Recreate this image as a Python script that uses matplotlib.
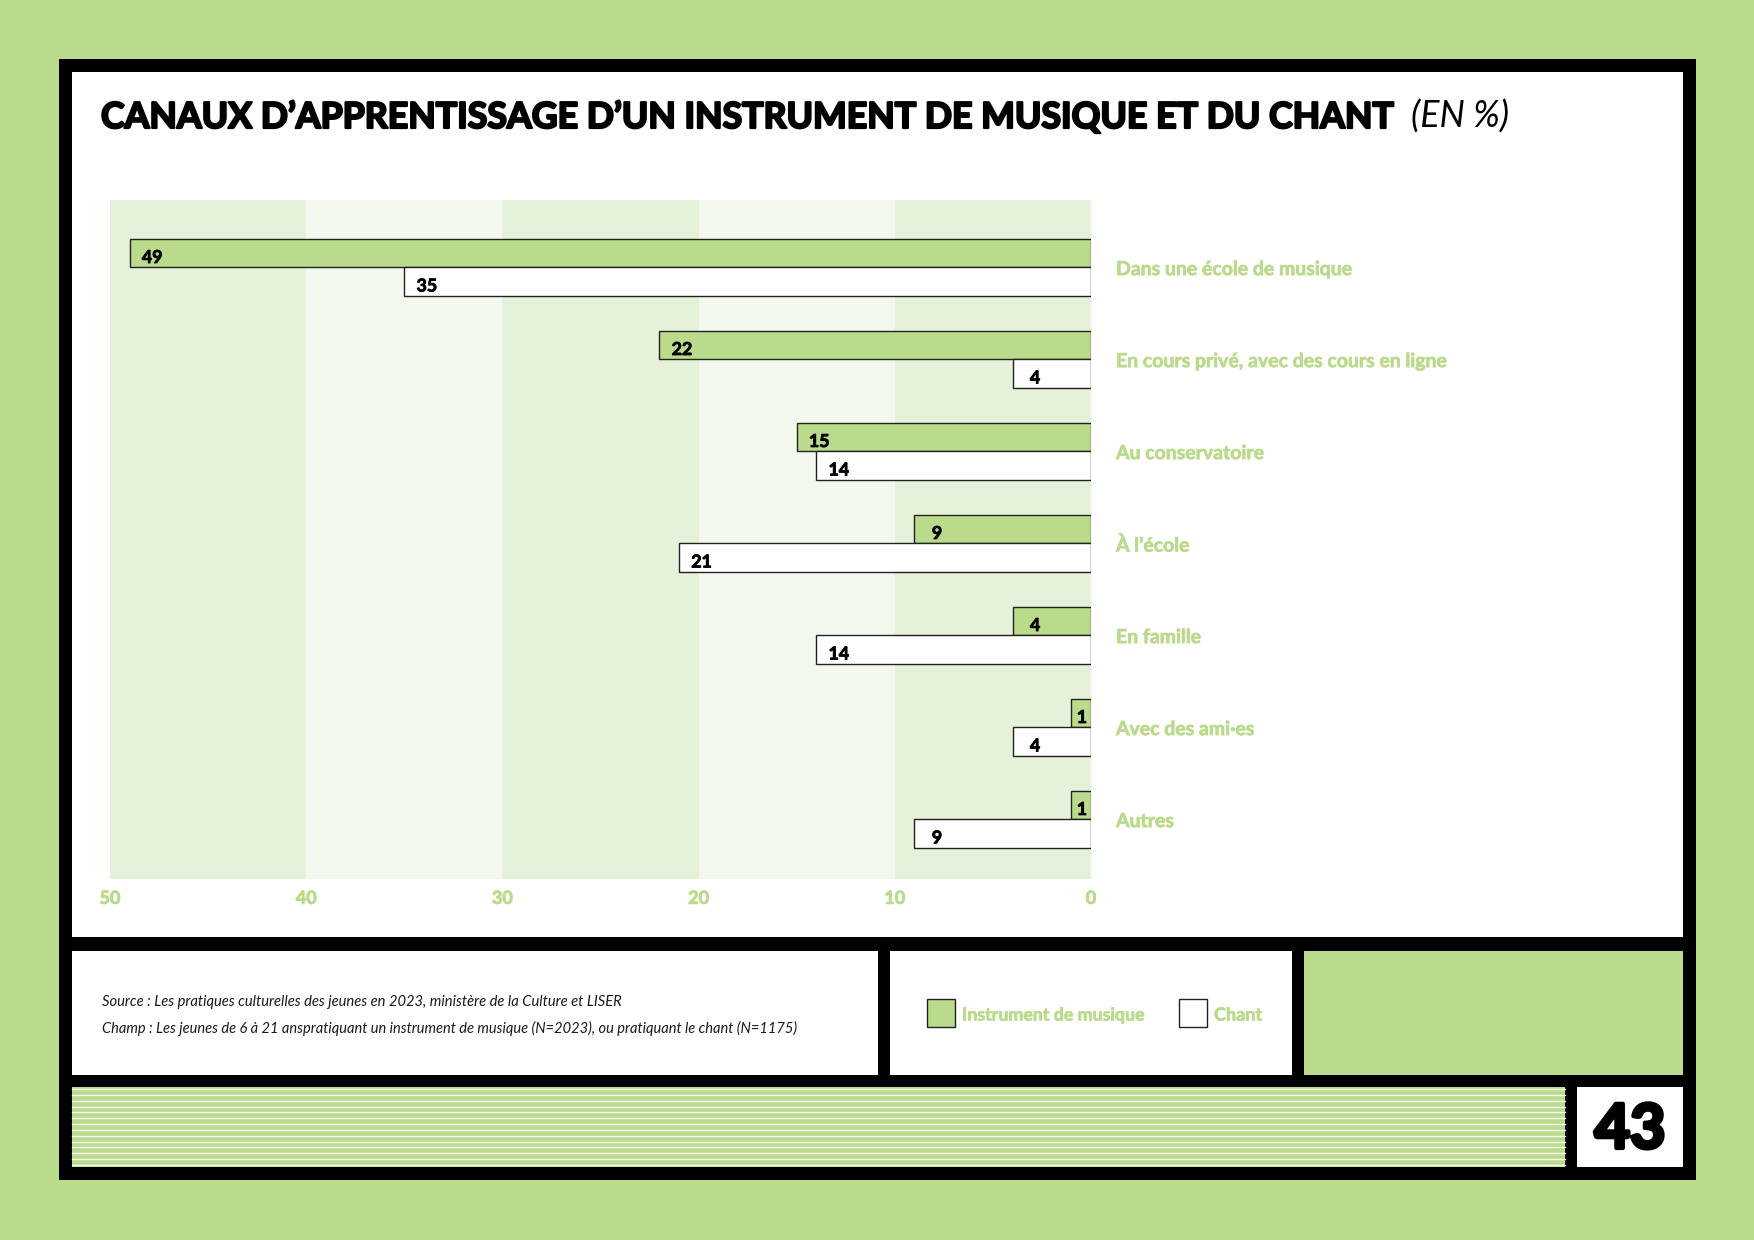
import numpy as np
import matplotlib.pyplot as plt
import matplotlib.patheffects as pe
from matplotlib.patches import Rectangle
from matplotlib.transforms import blended_transform_factory

# data
categories = ["Dans une école de musique",
              "En cours privé, avec des cours en ligne",
              "Au conservatoire",
              "À l’école",
              "En famille",
              "Avec des ami·es",
              "Autres"]
instrument = [49, 22, 15, 9, 4, 1, 1]
chant = [35, 4, 14, 21, 14, 4, 9]
ticks = [50, 40, 30, 20, 10, 0]
series_names = ["Instrument de musique", "Chant"]

title = "CANAUX D’APPRENTISSAGE D’UN INSTRUMENT DE MUSIQUE ET DU CHANT"
unit = "(EN %)"
source_lines = ["Source : Les pratiques culturelles des jeunes en 2023, ministère de la Culture et LISER",
                "Champ : Les jeunes de 6 à 21 anspratiquant un instrument de musique (N=2023), ou pratiquant le chant (N=1175)"]
page = "43"

GREEN = "#bbdb8c"
BAND_DARK = "#e6f1da"
BAND_LIGHT = "#f3f8ee"
EDGE = "#222222"

plt.rcParams['font.family'] = ["Lato", "DejaVu Sans"]

W, H = 1754, 1240
fig = plt.figure(figsize=(W / 100, H / 100), dpi=100, facecolor=GREEN)
renderer = fig.canvas.get_renderer()

# page furniture drawn in pixel coordinates
bg = fig.add_axes([0, 0, 1, 1])
bg.set_xlim(0, W)
bg.set_ylim(H, 0)
bg.axis('off')


def box(x0, y0, x1, y1, fc, ec='none', lw=0.0):
    bg.add_patch(Rectangle((x0, y0), x1 - x0, y1 - y0, facecolor=fc, edgecolor=ec, lw=lw))


def fit(t, width):
    # scale a text so that it spans the width measured on the reference
    bb = t.get_window_extent(renderer)
    t.set_fontsize(t.get_fontsize() * width / bb.width)


heavy = [pe.withStroke(linewidth=1.6, foreground='black')]

box(59, 59, 1696, 1180, 'black')
box(72, 72, 1683, 937, 'white')
box(72, 951, 878, 1075, 'white')
box(890, 951, 1292, 1075, 'white')
box(1304, 951, 1683, 1075, GREEN)
box(72, 1087, 1565, 1167, GREEN)
box(1577, 1087, 1683, 1167, 'white')
for yy in np.linspace(1089, 1165, 14):
    bg.plot([72, 1565], [yy, yy], color='white', lw=1.0, alpha=0.9)

t = bg.text(101, 128, title, fontsize=24, fontweight='bold', va='baseline',
            color='black', path_effects=heavy)
fit(t, 1292)
t = bg.text(1411, 128, unit, fontsize=22, fontstyle='italic', va='baseline', color='black')
fit(t, 98)

for yy, line, wd in zip([1002, 1028], source_lines, [522, 700]):
    t = bg.text(102, yy, line, fontsize=10.5, fontstyle='italic', va='center', color='#1a1a1a')
    fit(t, wd)

# legend
box(927, 999, 955, 1027, GREEN, EDGE, 1)
t = bg.text(962, 1015, series_names[0], fontsize=12.5, fontweight='bold', color=GREEN, va='center',
            path_effects=[pe.withStroke(linewidth=0.5, foreground=GREEN)])
fit(t, 183)
box(1179, 999, 1207, 1027, 'white', EDGE, 1)
t = bg.text(1214, 1015, series_names[1], fontsize=12.5, fontweight='bold', color=GREEN, va='center',
            path_effects=[pe.withStroke(linewidth=0.5, foreground=GREEN)])
fit(t, 48)

bg.text(1630, 1130, page, fontsize=44, fontweight='bold', ha='center', va='center',
        color='black', path_effects=[pe.withStroke(linewidth=3, foreground='black')])

# chart
ax = fig.add_axes([110 / W, 1 - 878.7 / H, 981 / W, (878.7 - 199.5) / H])
ax.set_facecolor('none')
for i in range(len(ticks) - 1):
    ax.axvspan(ticks[i], ticks[i + 1], color=BAND_DARK if i % 2 == 0 else BAND_LIGHT, lw=0, zorder=0)

y = np.arange(len(categories))
h = 0.31
ax.barh(y - h / 2, instrument, height=h, color=GREEN, edgecolor=EDGE, lw=1, zorder=2)
ax.barh(y + h / 2, chant, height=h, color='white', edgecolor=EDGE, lw=1, zorder=2)

num_fx = [pe.withStroke(linewidth=0.6, foreground='black')]
for yi, v in zip(y - h / 2, instrument):
    ax.text(max(v - 1.15, v * 0.46), yi + 0.108, str(v), ha='center', va='baseline',
            fontsize=12.8, fontweight='bold', color='black', zorder=3, path_effects=num_fx)
for yi, v in zip(y + h / 2, chant):
    ax.text(max(v - 1.15, v * 0.46), yi + 0.108, str(v), ha='center', va='baseline',
            fontsize=12.8, fontweight='bold', color='black', zorder=3, path_effects=num_fx)

tr = blended_transform_factory(ax.transAxes, ax.transData)
for yi, cat in zip(y, categories):
    ax.text(1.0255, yi + 0.025, cat, transform=tr, ha='left', va='center',
            fontsize=14, fontweight='bold', color=GREEN,
            path_effects=[pe.withStroke(linewidth=0.5, foreground=GREEN)])

ax.set_xlim(50, 0)
ax.set_ylim(6.646, -0.737)
ax.set_xticks(ticks)
ax.set_xticklabels([str(t) for t in ticks], fontweight='bold', fontsize=13, color=GREEN,
                   path_effects=[pe.withStroke(linewidth=0.6, foreground=GREEN)])
ax.set_yticks([])
ax.tick_params(axis='x', length=0, pad=8)
for s in ax.spines.values():
    s.set_visible(False)

fig.savefig('out.png', dpi=100, facecolor=GREEN)
